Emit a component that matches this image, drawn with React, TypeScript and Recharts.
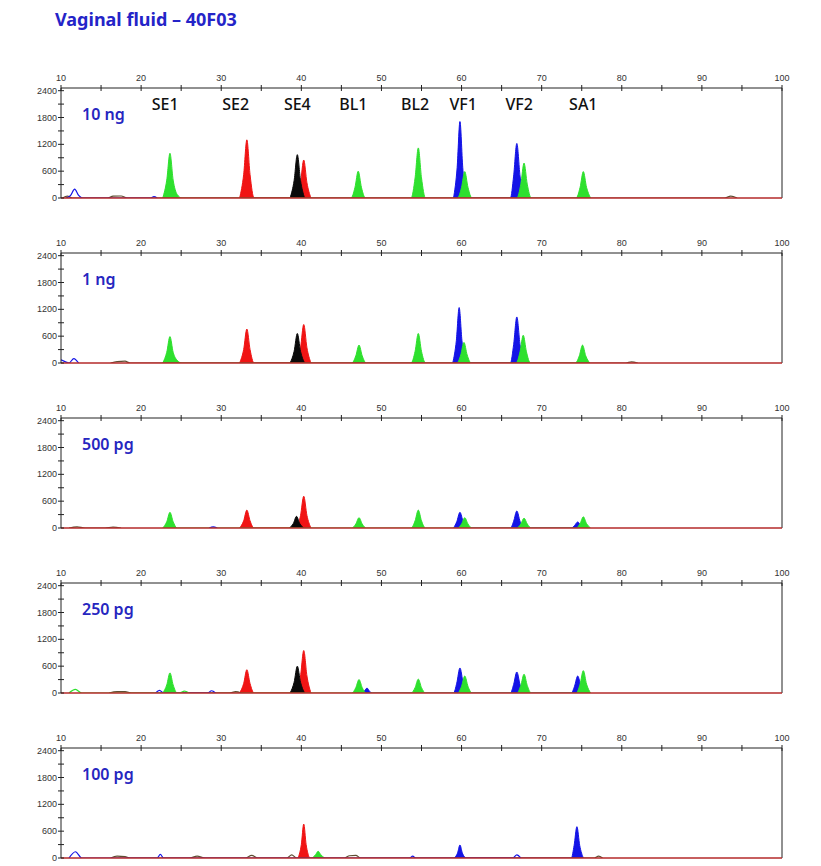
import { ComposedChart, Area, Line, XAxis, YAxis, ReferenceLine } from "recharts";

// peak traces per dye, [size, rfu]
const GREEN_10NG = [
  [22.7, 0], [23.2, 400], [23.6, 1000], [24.0, 400], [24.5, 80], [25.1, 0],
  [46.2, 0], [46.7, 240], [47.1, 600], [47.5, 240], [48.0, 0],
  [53.7, 0], [54.2, 450], [54.6, 1120], [55.0, 450], [55.5, 0],
  [59.5, 0], [60.0, 240], [60.4, 590], [60.8, 240], [61.3, 0],
  [66.9, 0], [67.4, 310], [67.8, 780], [68.2, 310], [68.7, 0],
  [74.3, 0], [74.8, 240], [75.2, 590], [75.6, 240], [76.1, 0],
];
const RED_10NG = [
  [32.3, 0], [32.8, 520], [33.2, 1300], [33.6, 520], [34.1, 0],
  [39.4, 0], [39.9, 340], [40.3, 850], [40.7, 340], [41.2, 0],
];
const BLACK_10NG = [[38.6, 0], [39.1, 390], [39.5, 970], [39.9, 390], [40.4, 0]];
const BLUE_10NG = [
  [59.0, 0], [59.45, 680], [59.8, 1710], [60.15, 680], [60.6, 0],
  [66.1, 0], [66.5, 490], [66.9, 1220], [67.3, 490], [67.7, 0],
];
const BLUE_OUT_10NG = [[10.6, 0], [11.2, 60], [11.7, 200], [12.2, 60], [12.7, 0], [21.2, 0], [21.6, 30], [22.0, 0]];
const NOISE_10NG = [[10.2, 0], [10.8, 40], [11.4, 0], [15.8, 0], [16.5, 40], [17.5, 45], [18.3, 0], [92.8, 0], [93.6, 40], [94.4, 0]];

const GREEN_1NG = [
  [22.7, 0], [23.2, 240], [23.6, 590], [24.0, 240], [24.5, 60], [25.1, 0],
  [46.3, 0], [46.8, 160], [47.2, 400], [47.6, 160], [48.1, 0],
  [53.7, 0], [54.2, 260], [54.6, 660], [55.0, 260], [55.5, 0],
  [59.4, 0], [59.9, 180], [60.3, 460], [60.7, 180], [61.2, 0],
  [66.8, 0], [67.3, 250], [67.7, 620], [68.1, 250], [68.6, 0],
  [74.2, 0], [74.7, 160], [75.1, 400], [75.5, 160], [76.0, 0],
];
const RED_1NG = [
  [32.3, 0], [32.8, 300], [33.2, 760], [33.6, 300], [34.1, 0],
  [39.4, 0], [39.9, 340], [40.3, 860], [40.7, 340], [41.2, 0],
];
const BLACK_1NG = [[38.6, 0], [39.1, 260], [39.5, 660], [39.9, 260], [40.4, 0]];
const BLUE_1NG = [
  [58.9, 0], [59.35, 500], [59.7, 1240], [60.05, 500], [60.5, 0],
  [66.1, 0], [66.5, 410], [66.9, 1030], [67.3, 410], [67.7, 0],
];
const BLUE_OUT_1NG = [[10.0, 70], [10.5, 30], [11.0, 0], [11.6, 100], [12.2, 0]];
const NOISE_1NG = [[16.2, 0], [17.0, 30], [18.0, 40], [18.6, 0], [80.5, 0], [81.2, 25], [82.0, 0]];

const GREEN_500PG = [
  [22.7, 0], [23.2, 140], [23.6, 350], [24.0, 140], [24.5, 0],
  [46.3, 0], [46.8, 90], [47.2, 230], [47.6, 90], [48.1, 0],
  [53.7, 0], [54.2, 160], [54.6, 400], [55.0, 160], [55.5, 0],
  [59.5, 0], [60.0, 90], [60.4, 230], [60.8, 90], [61.3, 0],
  [66.9, 0], [67.4, 90], [67.8, 220], [68.2, 90], [68.7, 0],
  [74.3, 0], [74.8, 100], [75.2, 250], [75.6, 100], [76.1, 0],
];
const RED_500PG = [
  [32.3, 0], [32.8, 160], [33.2, 400], [33.6, 160], [34.1, 0],
  [39.4, 0], [39.9, 280], [40.3, 710], [40.7, 280], [41.2, 0],
];
const BLACK_500PG = [[38.5, 0], [39.0, 100], [39.4, 260], [39.8, 100], [40.3, 0]];
const BLUE_500PG = [
  [59.0, 0], [59.4, 140], [59.8, 350], [60.2, 140], [60.6, 0],
  [66.1, 0], [66.5, 150], [66.9, 380], [67.3, 150], [67.7, 0],
  [73.7, 0], [74.1, 55], [74.5, 135], [74.9, 55], [75.3, 0],
];
const BLUE_OUT_500PG = [[28.5, 0], [29.0, 25], [29.5, 0]];
const NOISE_500PG = [[11.0, 0], [12.0, 25], [13.0, 0], [15.5, 0], [16.5, 20], [17.5, 0]];

const GREEN_250PG = [
  [22.7, 0], [23.2, 180], [23.6, 450], [24.0, 180], [24.5, 0],
  [46.3, 0], [46.8, 120], [47.2, 300], [47.6, 120], [48.1, 0],
  [53.7, 0], [54.2, 120], [54.6, 310], [55.0, 120], [55.5, 0],
  [59.5, 0], [60.0, 150], [60.4, 380], [60.8, 150], [61.3, 0],
  [66.9, 0], [67.4, 170], [67.8, 420], [68.2, 170], [68.7, 0],
  [74.3, 0], [74.8, 200], [75.2, 500], [75.6, 200], [76.1, 0],
];
const RED_250PG = [
  [32.3, 0], [32.8, 210], [33.2, 520], [33.6, 210], [34.1, 0],
  [39.4, 0], [39.9, 380], [40.3, 950], [40.7, 380], [41.2, 0],
];
const BLACK_250PG = [[38.6, 0], [39.1, 240], [39.5, 600], [39.9, 240], [40.4, 0]];
const BLUE_250PG = [
  [47.5, 0], [47.9, 50], [48.2, 110], [48.5, 40], [48.9, 0],
  [59.0, 0], [59.4, 220], [59.8, 560], [60.2, 220], [60.6, 0],
  [66.1, 0], [66.5, 190], [66.9, 470], [67.3, 190], [67.7, 0],
  [73.7, 0], [74.1, 150], [74.5, 380], [74.9, 150], [75.3, 0],
];
const BLUE_OUT_250PG = [[21.8, 0], [22.3, 60], [22.8, 0], [28.3, 0], [28.8, 50], [29.3, 0]];
const GREEN_OUT_250PG = [[11.0, 0], [11.8, 80], [12.6, 0], [24.8, 0], [25.4, 40], [26.0, 0]];
const NOISE_250PG = [[16.0, 0], [17.0, 30], [18.0, 30], [18.8, 0], [31.0, 0], [31.8, 30], [32.5, 0]];

const RED_100PG = [[39.6, 0], [40.0, 300], [40.3, 760], [40.6, 300], [41.0, 0]];
const GREEN_100PG = [[41.4, 0], [41.8, 80], [42.1, 150], [42.4, 80], [42.9, 0]];
const BLACK_100PG: number[][] = [];
const BLUE_100PG = [
  [59.1, 0], [59.5, 110], [59.8, 290], [60.1, 110], [60.6, 0],
  [73.7, 0], [74.05, 280], [74.4, 700], [74.75, 280], [75.2, 0],
];
const BLUE_OUT_100PG = [[11.0, 0], [11.8, 140], [12.6, 0], [22.0, 0], [22.4, 80], [22.8, 0], [53.5, 0], [53.9, 40], [54.3, 0], [66.4, 0], [66.9, 70], [67.4, 0]];
const NOISE_100PG = [
  [16.2, 0], [17.0, 40], [18.0, 30], [18.6, 0], [26.0, 0], [27.0, 40], [28.0, 0],
  [33.0, 0], [33.8, 60], [34.6, 0], [38.2, 0], [38.8, 70], [39.4, 0],
  [45.4, 0], [46.0, 50], [46.8, 60], [47.4, 0], [76.6, 0], [77.1, 40], [77.6, 0],
];

const PANEL_LABELS = ["10 ng", "1 ng", "500 pg", "250 pg", "100 pg"];
const MARKERS = ["SE1", "SE2", "SE4", "BL1", "BL2", "VF1", "VF2", "SA1"];
const MARKER_POS = [23.0, 31.8, 39.5, 46.5, 54.2, 60.2, 67.2, 75.2];
const X_TICKS = [10, 15, 20, 25, 30, 35, 40, 45, 50, 55, 60, 65, 70, 75, 80, 85, 90, 95, 100];
const Y_TICKS = [0, 300, 600, 900, 1200, 1500, 1800, 2100, 2400];

const PANELS = [
  { green: GREEN_10NG, red: RED_10NG, black: BLACK_10NG, blue: BLUE_10NG, blueOut: BLUE_OUT_10NG, greenOut: [], noise: NOISE_10NG },
  { green: GREEN_1NG, red: RED_1NG, black: BLACK_1NG, blue: BLUE_1NG, blueOut: BLUE_OUT_1NG, greenOut: [], noise: NOISE_1NG },
  { green: GREEN_500PG, red: RED_500PG, black: BLACK_500PG, blue: BLUE_500PG, blueOut: BLUE_OUT_500PG, greenOut: [], noise: NOISE_500PG },
  { green: GREEN_250PG, red: RED_250PG, black: BLACK_250PG, blue: BLUE_250PG, blueOut: BLUE_OUT_250PG, greenOut: GREEN_OUT_250PG, noise: NOISE_250PG },
  { green: GREEN_100PG, red: RED_100PG, black: BLACK_100PG, blue: BLUE_100PG, blueOut: BLUE_OUT_100PG, greenOut: [], noise: NOISE_100PG },
];

const C_GREEN = "#2ee02e";
const C_RED = "#f01414";
const C_BLACK = "#0a0a0a";
const C_BLUE = "#1414e6";
const C_BASE = "#b52a2a";
const C_NOISE = "#5e4e32";

const W = 821;
const H = 150;
const MARGIN = { top: 13, right: 39, bottom: 7, left: 11 };
const X_AXIS_H = 20;
const Y_AXIS_W = 50;
const AX_Y = MARGIN.top + X_AXIS_H;
const AX_X = MARGIN.left + Y_AXIS_W;

const pts = (arr: number[][]) => arr.map(([x, y]) => ({ x, y }));

const XTick = (props: any) => {
  const { x, payload } = props;
  const v = payload.value;
  return (
    <g>
      <line x1={x} x2={x} y1={AX_Y - 3} y2={AX_Y + 3} stroke="#222" />
      {v % 10 === 0 && (
        <text x={x} y={AX_Y - 7} textAnchor="middle" fontSize={9} fill="#333" fontFamily="Liberation Sans, Arial">
          {v}
        </text>
      )}
    </g>
  );
};

const YTick = (props: any) => {
  const { y, payload } = props;
  const v = payload.value;
  return (
    <g>
      <line x1={AX_X - 3} x2={AX_X + 3} y1={y} y2={y} stroke="#222" />
      {v % 600 === 0 && (
        <text x={AX_X - 4} y={y + 3} textAnchor="end" fontSize={9} fill="#333" fontFamily="Liberation Sans, Arial">
          {v}
        </text>
      )}
    </g>
  );
};

function Panel({ idx }: { idx: number }) {
  const p = PANELS[idx];
  const fillArea = (data: number[][], color: string, key: string) => (
    <Area
      key={key}
      data={pts(data)}
      dataKey="y"
      type="monotone"
      stroke={color}
      strokeWidth={1}
      fill={color}
      fillOpacity={1}
      dot={false}
      activeDot={false}
      isAnimationActive={false}
    />
  );
  const outline = (data: number[][], color: string, key: string) => (
    <Line
      key={key}
      data={pts(data)}
      dataKey="y"
      type="monotone"
      stroke={color}
      strokeWidth={1.2}
      dot={false}
      activeDot={false}
      isAnimationActive={false}
    />
  );
  return (
    <ComposedChart width={W} height={H} margin={MARGIN}>
      <XAxis
        dataKey="x"
        type="number"
        orientation="top"
        domain={[10, 100]}
        ticks={X_TICKS}
        height={X_AXIS_H}
        interval={0}
        tickLine={false}
        axisLine={{ stroke: "#222" }}
        tick={XTick}
        allowDataOverflow
      />
      <YAxis
        type="number"
        domain={[0, 2460]}
        ticks={Y_TICKS}
        width={Y_AXIS_W}
        interval={0}
        tickLine={false}
        axisLine={{ stroke: "#222" }}
        tick={YTick}
        allowDataOverflow
      />
      {outline(p.noise, C_NOISE, "noise")}
      {outline(p.blueOut, C_BLUE, "blueOut")}
      {p.greenOut.length > 0 && outline(p.greenOut, C_GREEN, "greenOut")}
      {fillArea(p.red, C_RED, "red")}
      {p.black.length > 0 && fillArea(p.black, C_BLACK, "black")}
      {fillArea(p.blue, C_BLUE, "blue")}
      {fillArea(p.green, C_GREEN, "green")}
      <ReferenceLine x={100} stroke="#222" />
      <ReferenceLine y={0} stroke={C_BASE} strokeWidth={1.5} />
      <ReferenceLine
        x={10}
        stroke="none"
        label={{
          value: PANEL_LABELS[idx],
          position: "insideTopLeft",
          offset: 21,
          fill: "#2626c0",
          fontSize: 16,
          fontWeight: 600,
          fontFamily: "Noto Sans, sans-serif",
        }}
      />
      {idx === 0 &&
        MARKERS.map((m, i) => (
          <ReferenceLine
            key={m}
            x={MARKER_POS[i]}
            stroke="none"
            label={{
              value: m,
              position: "insideTop",
              offset: 11,
              fill: "#111",
              fontSize: 16,
              fontWeight: 500,
              fontFamily: "Noto Sans, sans-serif",
            }}
          />
        ))}
    </ComposedChart>
  );
}

export default function App() {
  return (
    <div style={{ position: "absolute", left: 0, top: 0, width: W, height: 865, background: "#fff" }}>
      <div
        style={{
          position: "absolute",
          left: 55,
          top: 7,
          fontFamily: "Noto Sans, sans-serif",
          fontWeight: 700,
          fontSize: 18,
          color: "#2424c8",
          whiteSpace: "nowrap",
        }}
      >
        Vaginal fluid – 40F03
      </div>
      {PANEL_LABELS.map((_, i) => (
        <div key={i} style={{ position: "absolute", left: 0, top: 55 + 165 * i }}>
          <Panel idx={i} />
        </div>
      ))}
    </div>
  );
}
